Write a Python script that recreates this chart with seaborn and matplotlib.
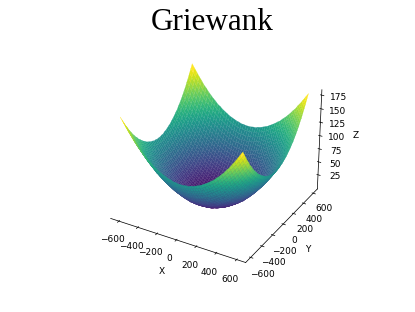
import matplotlib
matplotlib.use("Agg")
import matplotlib.pyplot as plt
import numpy as np
import seaborn as sns

# surface heights, one half row per |y| step (600 .. 0),
# each running over x = -600 .. 0; the bowl is mirrored about x = 0 and y = 0
half_x = [-600, -575, -550, -525, -500, -475, -450, -425, -400, -375, -350, -325, -300,
          -275, -250, -225, -200, -175, -150, -125, -100, -75, -50, -25, 0]

row_600 = [181, 174, 167, 160, 154, 147, 142, 136, 131, 126, 122, 117, 114, 110, 107, 104, 101, 99, 97, 95, 94, 92, 92, 91, 91]
row_575 = [174, 167, 160, 153, 147, 140, 135, 129, 124, 119, 115, 110, 107, 103, 100, 97, 94, 92, 90, 88, 87, 85, 85, 84, 84]
row_550 = [167, 160, 153, 146, 140, 133, 128, 122, 117, 112, 108, 103, 100, 96, 93, 90, 87, 85, 83, 81, 80, 78, 78, 77, 77]
row_525 = [160, 153, 146, 139, 133, 126, 121, 115, 110, 105, 101, 96, 93, 89, 86, 83, 80, 78, 76, 74, 73, 71, 71, 70, 70]
row_500 = [154, 147, 140, 133, 127, 120, 115, 109, 104, 99, 95, 90, 87, 83, 80, 77, 74, 72, 70, 68, 67, 65, 65, 64, 64]
row_475 = [147, 140, 133, 126, 120, 113, 108, 102, 97, 92, 88, 83, 80, 76, 73, 70, 67, 65, 63, 61, 60, 58, 58, 57, 57]
row_450 = [142, 135, 128, 121, 115, 108, 103, 97, 92, 87, 83, 78, 75, 71, 68, 65, 62, 60, 58, 56, 55, 53, 53, 52, 52]
row_425 = [136, 129, 122, 115, 109, 102, 97, 91, 86, 81, 77, 72, 69, 65, 62, 59, 56, 54, 52, 50, 49, 47, 47, 46, 46]
row_400 = [131, 124, 117, 110, 104, 97, 92, 86, 81, 76, 72, 67, 64, 60, 57, 54, 51, 49, 47, 45, 44, 42, 42, 41, 41]
row_375 = [126, 119, 112, 105, 99, 92, 87, 81, 76, 71, 67, 62, 59, 55, 52, 49, 46, 44, 42, 40, 39, 37, 37, 36, 36]
row_350 = [122, 115, 108, 101, 95, 88, 83, 77, 72, 67, 63, 58, 55, 51, 48, 45, 42, 40, 38, 36, 35, 33, 33, 32, 32]
row_325 = [117, 110, 103, 96, 90, 83, 78, 72, 67, 62, 58, 53, 50, 46, 43, 40, 37, 35, 33, 31, 30, 28, 28, 27, 27]
row_300 = [114, 107, 100, 93, 87, 80, 75, 69, 64, 59, 55, 50, 47, 43, 40, 37, 34, 32, 30, 28, 27, 25, 25, 24, 24]
row_275 = [110, 103, 96, 89, 83, 76, 71, 65, 60, 55, 51, 46, 43, 39, 36, 33, 30, 28, 26, 24, 23, 21, 21, 20, 20]
row_250 = [107, 100, 93, 86, 80, 73, 68, 62, 57, 52, 48, 43, 40, 36, 33, 30, 27, 25, 23, 21, 20, 18, 18, 17, 17]
row_225 = [104, 97, 90, 83, 77, 70, 65, 59, 54, 49, 45, 40, 37, 33, 30, 27, 24, 22, 20, 18, 17, 15, 15, 14, 14]
row_200 = [101, 94, 87, 80, 74, 67, 62, 56, 51, 46, 42, 37, 34, 30, 27, 24, 21, 19, 17, 15, 14, 12, 12, 11, 11]
row_175 = [99, 92, 85, 78, 72, 65, 60, 54, 49, 44, 40, 35, 32, 28, 25, 22, 19, 17, 15, 13, 12, 10, 10, 9, 9]
row_150 = [97, 90, 83, 76, 70, 63, 58, 52, 47, 42, 38, 33, 30, 26, 23, 20, 17, 15, 13, 11, 10, 8, 8, 7, 7]
row_125 = [95, 88, 81, 74, 68, 61, 56, 50, 45, 40, 36, 31, 28, 24, 21, 18, 15, 13, 11, 9, 8, 6, 6, 5, 5]
row_100 = [94, 87, 80, 73, 67, 60, 55, 49, 44, 39, 35, 30, 27, 23, 20, 17, 14, 12, 10, 8, 7, 5, 5, 4, 4]
row_075 = [92, 85, 78, 71, 65, 58, 53, 47, 42, 37, 33, 28, 25, 21, 18, 15, 12, 10, 8, 6, 5, 3, 3, 2, 2]
row_050 = [92, 85, 78, 71, 65, 58, 53, 47, 42, 37, 33, 28, 25, 21, 18, 15, 12, 10, 8, 6, 5, 3, 3, 2, 2]
row_025 = [91, 84, 77, 70, 64, 57, 52, 46, 41, 36, 32, 27, 24, 20, 17, 14, 11, 9, 7, 5, 4, 2, 2, 1, 1]
row_000 = [91, 84, 77, 70, 64, 57, 52, 46, 41, 36, 32, 27, 24, 20, 17, 14, 11, 9, 7, 5, 4, 2, 2, 1, 1]

half_rows = [row_600, row_575, row_550, row_525, row_500, row_475, row_450, row_425, row_400,
             row_375, row_350, row_325, row_300, row_275, row_250, row_225, row_200, row_175,
             row_150, row_125, row_100, row_075, row_050, row_025, row_000]

z_ticks = [25, 50, 75, 100, 125, 150, 175]

# mirror the quadrant into the full grid
quad = np.array(half_rows, dtype=float)
top = np.hstack([quad, quad[:, -2::-1]])
Z = np.vstack([top, top[-2::-1]])
axis_vals = np.array(half_x + [-v for v in half_x[-2::-1]])
X, Y = np.meshgrid(axis_vals, axis_vals)

fig = plt.figure(figsize=(415 / 65, 312 / 65), dpi=65)
ax = fig.add_subplot(projection="3d")
surf = ax.plot_surface(X, Y, Z, cmap=sns.color_palette("viridis", as_cmap=True),
                       rstride=1, cstride=1, linewidth=0)
# thin same-colour edges so the seams between facets stay faint
surf.set_edgecolor("face")
surf.set_linewidth(0.25)

ax.grid(False)
for axis in (ax.xaxis, ax.yaxis, ax.zaxis):
    axis.pane.fill = False
    axis.pane.set_edgecolor("white")

ax.set_zticks(z_ticks)
ax.set_xlabel("X")
ax.set_ylabel("Y")
ax.set_zlabel("Z")
ax.set_title("Griewank", family="Liberation Serif", fontsize=34.5)

fig.savefig("out.png")
